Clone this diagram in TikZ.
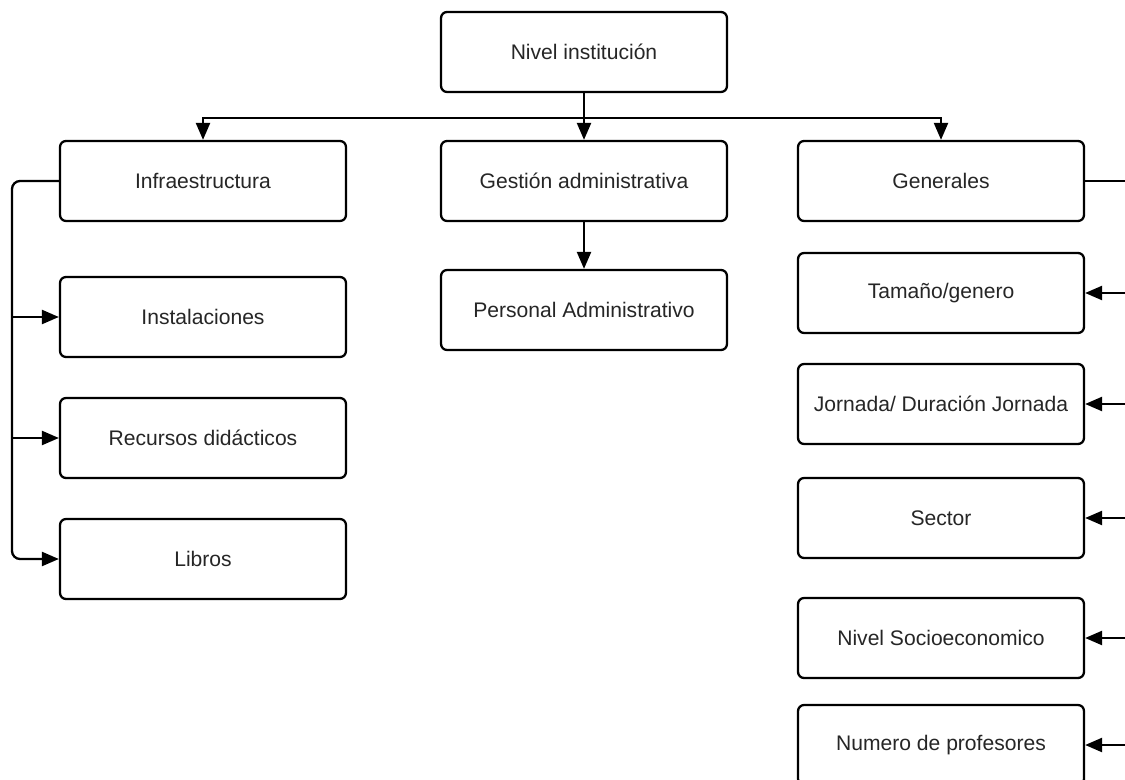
\documentclass[tikz,border=0pt]{standalone}
\usepackage{fontspec}
\setmainfont{Liberation Sans}
\usetikzlibrary{arrows.meta}

\tikzset{
  every node/.style={font=\fontsize{12}{14}\selectfont,text=black!85}
}
\tikzset{item box/.style={draw,line width=1.3pt,rounded corners=0.12cm,minimum width=5.72cm,minimum height=1.6cm,fill=white}}
\tikzset{link/.style={line width=1.3pt,-{Triangle[length=0.34cm,width=0.28cm]}}}

\begin{document}
\begin{tikzpicture}[x=0.02cm,y=-0.02cm]
  \clip (0,0) rectangle (1125,780);

  \node [item box] (nivel)     at (584,52)  {Nivel institución};
  \node [item box] (infra)     at (203,181) {Infraestructura};
  \node [item box] (gestion)   at (584,181) {Gestión administrativa};
  \node [item box] (generales) at (941,181) {Generales};
  \node [item box] (personal)  at (584,310) {Personal Administrativo};
  \node [item box] (instal)    at (203,317) {Instalaciones};
  \node [item box] (recursos)  at (203,438) {Recursos didácticos};
  \node [item box] (libros)    at (203,559) {Libros};
  \node [item box] (tamano)    at (941,293) {Tamaño/genero};
  \node [item box] (jornada)   at (941,404) {Jornada/ Duración Jornada};
  \node [item box] (sector)    at (941,518) {Sector};
  \node [item box] (socio)     at (941,638) {Nivel Socioeconomico};
  \node [item box] (numero)    at (941,745) {Numero de profesores};

  \coordinate (bus)   at (584,118);
  \coordinate (lspine) at (12,181);
  \coordinate (rspine) at (1150,181);

  \draw [link] (nivel.south) -- (gestion.north);
  \draw [link] (bus) -| (infra.north);
  \draw [link] (bus) -| (generales.north);
  \draw [link] (gestion.south) -- (personal.north);

  \draw [link,rounded corners=0.16cm] (infra.west) -- (lspine) |- (libros.west);
  \draw [link] (instal.west -| lspine) -- (instal.west);
  \draw [link] (recursos.west -| lspine) -- (recursos.west);

  \draw [line width=1.3pt] (generales.east) -- (rspine) -- (rspine |- numero.east);
  \draw [link] (tamano.east -| rspine)  -- (tamano.east);
  \draw [link] (jornada.east -| rspine) -- (jornada.east);
  \draw [link] (sector.east -| rspine)  -- (sector.east);
  \draw [link] (socio.east -| rspine)   -- (socio.east);
  \draw [link] (numero.east -| rspine)  -- (numero.east);

\end{tikzpicture}
\end{document}
